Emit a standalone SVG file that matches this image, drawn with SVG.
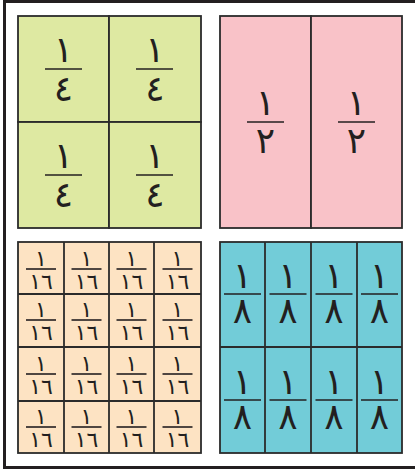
<svg xmlns="http://www.w3.org/2000/svg" width="415" height="471" viewBox="0 0 415 471">
<style>
.frame{fill:none;stroke:#231f20;stroke-width:3}
.cell{stroke:#2b2b2b;stroke-width:1.8}
.green{fill:#dee9a2}
.pink{fill:#f9c2c8}
.orange{fill:#fde3c3}
.cyan{fill:#72ccd8}
.bar{stroke:#231f20;stroke-width:1.6}
.d{font-family:"DejaVu Sans",sans-serif;fill:#231f20;text-anchor:middle}
.big{font-size:36px}
.small{font-size:22px}
</style>
<path class="frame" d="M415 1.5H4.5V467.5H415"/>
<g id="quarters">
<rect class="cell green" x="18" y="16" width="91" height="106"/>
<rect class="cell green" x="109" y="16" width="92" height="106"/>
<rect class="cell green" x="18" y="122" width="91" height="106"/>
<rect class="cell green" x="109" y="122" width="92" height="106"/>
<g id="q1"><text class="d big" x="63.5" y="62">١</text><line class="bar" x1="45" y1="69" x2="82" y2="69"/><text class="d big" x="63.5" y="101">٤</text></g>
<g id="q2"><text class="d big" x="155" y="62">١</text><line class="bar" x1="136" y1="69" x2="173" y2="69"/><text class="d big" x="155" y="101">٤</text></g>
<g id="q3"><text class="d big" x="63.5" y="168">١</text><line class="bar" x1="45" y1="175" x2="82" y2="175"/><text class="d big" x="63.5" y="207">٤</text></g>
<g id="q4"><text class="d big" x="155" y="168">١</text><line class="bar" x1="136" y1="175" x2="173" y2="175"/><text class="d big" x="155" y="207">٤</text></g>
</g>
<g id="halves">
<rect class="cell pink" x="220" y="16" width="91" height="212"/>
<rect class="cell pink" x="311" y="16" width="91" height="212"/>
<g id="h1"><text class="d big" x="265.5" y="115">١</text><line class="bar" x1="247" y1="122" x2="284" y2="122"/><text class="d big" x="265.5" y="153">٢</text></g>
<g id="h2"><text class="d big" x="356.5" y="115">١</text><line class="bar" x1="338" y1="122" x2="375" y2="122"/><text class="d big" x="356.5" y="153">٢</text></g>
</g>
<g id="sixteenths">
<rect class="cell orange" x="18" y="242" width="183" height="211"/>
<line class="cell" x1="64" y1="242" x2="64" y2="453"/>
<line class="cell" x1="109" y1="242" x2="109" y2="453"/>
<line class="cell" x1="154" y1="242" x2="154" y2="453"/>
<line class="cell" x1="18" y1="294" x2="201" y2="294"/>
<line class="cell" x1="18" y1="347" x2="201" y2="347"/>
<line class="cell" x1="18" y1="401" x2="201" y2="401"/>
<g id="s-r1">
<text class="d small" x="41" y="266">١</text><line class="bar" x1="26" y1="269" x2="56" y2="269"/><text class="d small" x="41" y="289">١٦</text>
<text class="d small" x="86.5" y="266">١</text><line class="bar" x1="71.5" y1="269" x2="101.5" y2="269"/><text class="d small" x="86.5" y="289">١٦</text>
<text class="d small" x="131.5" y="266">١</text><line class="bar" x1="116.5" y1="269" x2="146.5" y2="269"/><text class="d small" x="131.5" y="289">١٦</text>
<text class="d small" x="177.5" y="266">١</text><line class="bar" x1="162.5" y1="269" x2="192.5" y2="269"/><text class="d small" x="177.5" y="289">١٦</text>
</g>
<g id="s-r2">
<text class="d small" x="41" y="317">١</text><line class="bar" x1="26" y1="320" x2="56" y2="320"/><text class="d small" x="41" y="340">١٦</text>
<text class="d small" x="86.5" y="317">١</text><line class="bar" x1="71.5" y1="320" x2="101.5" y2="320"/><text class="d small" x="86.5" y="340">١٦</text>
<text class="d small" x="131.5" y="317">١</text><line class="bar" x1="116.5" y1="320" x2="146.5" y2="320"/><text class="d small" x="131.5" y="340">١٦</text>
<text class="d small" x="177.5" y="317">١</text><line class="bar" x1="162.5" y1="320" x2="192.5" y2="320"/><text class="d small" x="177.5" y="340">١٦</text>
</g>
<g id="s-r3">
<text class="d small" x="41" y="371">١</text><line class="bar" x1="26" y1="374" x2="56" y2="374"/><text class="d small" x="41" y="394">١٦</text>
<text class="d small" x="86.5" y="371">١</text><line class="bar" x1="71.5" y1="374" x2="101.5" y2="374"/><text class="d small" x="86.5" y="394">١٦</text>
<text class="d small" x="131.5" y="371">١</text><line class="bar" x1="116.5" y1="374" x2="146.5" y2="374"/><text class="d small" x="131.5" y="394">١٦</text>
<text class="d small" x="177.5" y="371">١</text><line class="bar" x1="162.5" y1="374" x2="192.5" y2="374"/><text class="d small" x="177.5" y="394">١٦</text>
</g>
<g id="s-r4">
<text class="d small" x="41" y="424">١</text><line class="bar" x1="26" y1="427" x2="56" y2="427"/><text class="d small" x="41" y="447">١٦</text>
<text class="d small" x="86.5" y="424">١</text><line class="bar" x1="71.5" y1="427" x2="101.5" y2="427"/><text class="d small" x="86.5" y="447">١٦</text>
<text class="d small" x="131.5" y="424">١</text><line class="bar" x1="116.5" y1="427" x2="146.5" y2="427"/><text class="d small" x="131.5" y="447">١٦</text>
<text class="d small" x="177.5" y="424">١</text><line class="bar" x1="162.5" y1="427" x2="192.5" y2="427"/><text class="d small" x="177.5" y="447">١٦</text>
</g>
</g>
<g id="eighths">
<rect class="cell cyan" x="220" y="242" width="182" height="211"/>
<line class="cell" x1="265" y1="242" x2="265" y2="453"/>
<line class="cell" x1="311" y1="242" x2="311" y2="453"/>
<line class="cell" x1="357" y1="242" x2="357" y2="453"/>
<line class="cell" x1="220" y1="347" x2="402" y2="347"/>
<g id="e-r1">
<text class="d big" x="242.5" y="288">١</text><line class="bar" x1="224" y1="294" x2="261" y2="294"/><text class="d big" x="242.5" y="323">٨</text>
<text class="d big" x="288" y="288">١</text><line class="bar" x1="269.5" y1="294" x2="306.5" y2="294"/><text class="d big" x="288" y="323">٨</text>
<text class="d big" x="334" y="288">١</text><line class="bar" x1="315.5" y1="294" x2="352.5" y2="294"/><text class="d big" x="334" y="323">٨</text>
<text class="d big" x="379.5" y="288">١</text><line class="bar" x1="361" y1="294" x2="398" y2="294"/><text class="d big" x="379.5" y="323">٨</text>
</g>
<g id="e-r2">
<text class="d big" x="242.5" y="394">١</text><line class="bar" x1="224" y1="400" x2="261" y2="400"/><text class="d big" x="242.5" y="429">٨</text>
<text class="d big" x="288" y="394">١</text><line class="bar" x1="269.5" y1="400" x2="306.5" y2="400"/><text class="d big" x="288" y="429">٨</text>
<text class="d big" x="334" y="394">١</text><line class="bar" x1="315.5" y1="400" x2="352.5" y2="400"/><text class="d big" x="334" y="429">٨</text>
<text class="d big" x="379.5" y="394">١</text><line class="bar" x1="361" y1="400" x2="398" y2="400"/><text class="d big" x="379.5" y="429">٨</text>
</g>
</g>
</svg>
